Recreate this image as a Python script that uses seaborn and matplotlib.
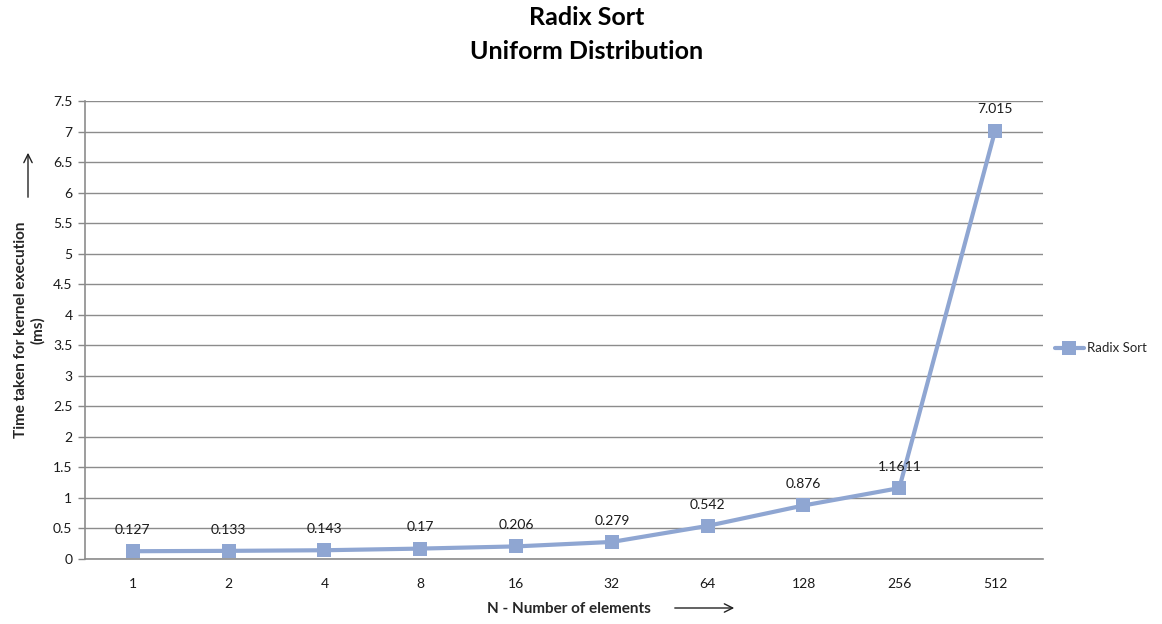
import matplotlib
matplotlib.use("Agg")
import matplotlib.pyplot as plt
import seaborn as sns
import pandas as pd

categories = ["1", "2", "4", "8", "16", "32", "64", "128", "256", "512"]
times = [0.127, 0.133, 0.143, 0.17, 0.206, 0.279, 0.542, 0.876, 1.1611, 7.015]
value_labels = ["0.127", "0.133", "0.143", "0.17", "0.206", "0.279", "0.542", "0.876", "1.1611", "7.015"]
yticks = [0, 0.5, 1, 1.5, 2, 2.5, 3, 3.5, 4, 4.5, 5, 5.5, 6, 6.5, 7, 7.5]
ytick_labels = ["0", "0.5", "1", "1.5", "2", "2.5", "3", "3.5", "4", "4.5", "5", "5.5", "6", "6.5", "7", "7.5"]

sns.set_style("white")
plt.rcParams['font.family'] = ['Lato', 'DejaVu Sans']

df = pd.DataFrame({"N": categories, "Time": times, "series": "Radix Sort"})

fig = plt.figure(figsize=(11.62, 6.24), dpi=100)
ax = fig.add_axes([0.0731, 0.1042, 0.8245, 0.7338])

color = "#8FA6D2"
sns.lineplot(data=df, x="N", y="Time", hue="series", palette=[color], sort=False,
             marker="s", markersize=10, markeredgewidth=0, linewidth=3, ax=ax)

ax.set_xlim(-0.5, len(categories) - 0.5)
ax.set_ylim(0, 7.5)
ax.set_yticks(yticks)
ax.set_yticklabels(ytick_labels, fontsize=10, color="#1a1a1a")
ax.set_xticks(range(len(categories)))
ax.set_xticklabels(categories, fontsize=10, color="#1a1a1a")
ax.set_xticks([i - 0.5 for i in range(len(categories) + 1)], minor=True)
ax.tick_params(axis="x", which="major", length=0, pad=14)
ax.tick_params(axis="x", which="minor", length=5, color="#888888", width=1, direction="out")
ax.tick_params(axis="y", length=5, color="#888888", width=1, direction="out", left=True, pad=4)

ax.grid(axis="y", color="#8c8c8c", linewidth=1)
ax.set_axisbelow(True)
for s in ["top", "right"]:
    ax.spines[s].set_visible(False)
for s in ["left", "bottom"]:
    ax.spines[s].set_color("#8c8c8c")
    ax.spines[s].set_linewidth(1.2)

for i, (v, lab) in enumerate(zip(times, value_labels)):
    ax.annotate(lab, (i, v), xytext=(0, 11), textcoords="offset points",
                ha="center", va="bottom", fontsize=10, color="#1a1a1a")

ax.set_xlabel("N - Number of elements", fontsize=11, fontweight="bold", labelpad=8, x=0.505)
ax.set_ylabel("Time taken for kernel execution\n(ms)", fontsize=11, fontweight="bold", labelpad=6)

fig.suptitle("Radix Sort\nUniform Distribution", fontsize=18, fontweight="bold", color="black",
             y=0.99, x=0.505, linespacing=1.55)

# arrows
fig.add_artist(matplotlib.patches.FancyArrowPatch((28/1162, 1-200/624), (28/1162, 1-150/624),
               transform=fig.transFigure, arrowstyle="->", mutation_scale=15, color="#222222", lw=1))
fig.add_artist(matplotlib.patches.FancyArrowPatch((672/1162, 1-608/624), (737/1162, 1-608/624),
               transform=fig.transFigure, arrowstyle="->", mutation_scale=15, color="#222222", lw=1))

leg = ax.legend(loc="center left", bbox_to_anchor=(1.0, 0.46), frameon=False, fontsize=9.5,
                handlelength=2.2, handletextpad=0.2)
for h in leg.legend_handles:
    h.set_linewidth(3)

fig.savefig("out.png", dpi=100)
